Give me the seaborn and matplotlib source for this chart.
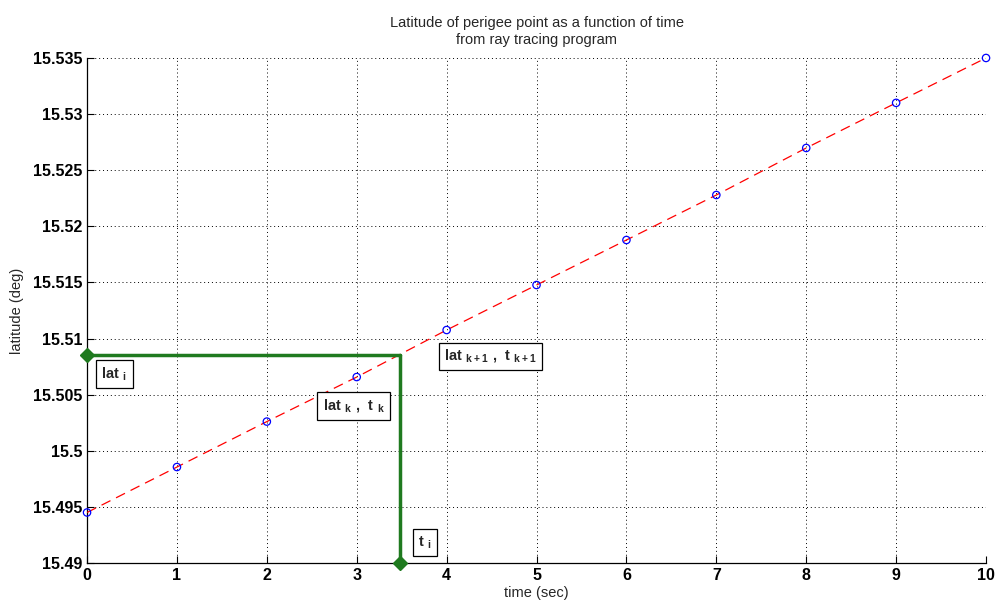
import matplotlib
matplotlib.use("Agg")
import matplotlib.pyplot as plt
import seaborn as sns
import numpy as np
import pandas as pd

# ray tracing samples: perigee latitude vs time
time_sec = [0, 1, 2, 3, 4, 5, 6, 7, 8, 9, 10]
latitude_deg = [15.4945, 15.49855, 15.5026, 15.50657, 15.51076, 15.51477,
                15.51878, 15.52279, 15.52698, 15.5310, 15.5350]

# interpolated point
t_i = 3.48
lat_i = 15.50853

x_ticks = [0, 1, 2, 3, 4, 5, 6, 7, 8, 9, 10]
y_ticks = [15.49, 15.495, 15.5, 15.505, 15.51, 15.515, 15.52, 15.525, 15.53, 15.535]
y_tick_labels = ['15.49', '15.495', '15.5', '15.505', '15.51', '15.515',
                 '15.52', '15.525', '15.53', '15.535']

df = pd.DataFrame({'time': time_sec, 'lat': latitude_deg})

sns.set_style("ticks")
plt.rcParams['font.family'] = ['Liberation Sans', 'DejaVu Sans']
plt.rcParams['mathtext.fontset'] = 'custom'
plt.rcParams['mathtext.rm'] = 'Liberation Sans'
plt.rcParams['mathtext.bf'] = 'Liberation Sans:bold'
plt.rcParams['xtick.direction'] = 'in'
plt.rcParams['ytick.direction'] = 'in'

fig = plt.figure(figsize=(9.97, 6.02), dpi=100)
ax = fig.add_axes([0.0873, 0.0648, 0.9017, 0.8389])

sns.lineplot(data=df, x='time', y='lat', ax=ax, color='red', linewidth=0.9,
             dashes=False, linestyle=(0, (8, 5)), zorder=3)
sns.scatterplot(data=df, x='time', y='lat', ax=ax, marker='o', s=28,
                facecolors='none', edgecolor='blue', linewidth=0.9, zorder=4,
                clip_on=False)

# construction lines to the interpolated point
green = '#1f7a1f'
ax.plot([0, t_i], [lat_i, lat_i], color=green, linewidth=2.5, zorder=5,
        clip_on=False)
ax.plot([t_i, t_i], [lat_i, 15.49], color=green, linewidth=2.5, zorder=5,
        clip_on=False)
ax.plot([0, t_i], [lat_i, 15.49], linestyle='none', marker='D', markersize=7,
        color=green, zorder=6, clip_on=False)

box = dict(boxstyle='square,pad=0.35', facecolor='white', edgecolor='black',
           linewidth=0.9)
lbl = dict(fontsize=10.5, fontweight='bold', zorder=7, bbox=box,
           va='center', ha='left')
ax.text(0.16, 15.5068, r'$\mathbf{lat}\ _{\mathbf{i}}$', **lbl)
ax.text(2.62, 15.5040, r'$\mathbf{lat}\ _{\mathbf{k}}\mathbf{\ ,\ t}\ _{\mathbf{k}}$', **lbl)
ax.text(3.97, 15.5084, r'$\mathbf{lat}\ _{\mathbf{k+1}}\mathbf{\ ,\ t}\ _{\mathbf{k+1}}$', **lbl)
ax.text(3.68, 15.4918, r'$\mathbf{t}\ _{\mathbf{i}}$', **lbl)

ax.set_xlim(0, 10)
ax.set_ylim(15.49, 15.535)
ax.set_xticks(x_ticks)
ax.set_xticklabels([str(v) for v in x_ticks])
ax.set_yticks(y_ticks)
ax.set_yticklabels(y_tick_labels)
ax.tick_params(labelsize=11.5, length=5, width=0.8, colors='black')
for t in ax.get_xticklabels() + ax.get_yticklabels():
    t.set_fontweight('bold')
ax.grid(True, color='black', linestyle=(0, (1, 3)), linewidth=0.7)

for side in ['top', 'right']:
    ax.spines[side].set_visible(False)
for side in ['left', 'bottom']:
    ax.spines[side].set_color('black')
    ax.spines[side].set_linewidth(0.9)

ax.set_xlabel('time (sec)', fontsize=10.5, labelpad=2)
ax.set_ylabel('latitude (deg)', fontsize=10.5, labelpad=6)
ax.set_title('Latitude of perigee point as a function of time\nfrom ray tracing program',
             fontsize=10.5, pad=10, linespacing=1.3)

fig.savefig('out.png', dpi=100)
